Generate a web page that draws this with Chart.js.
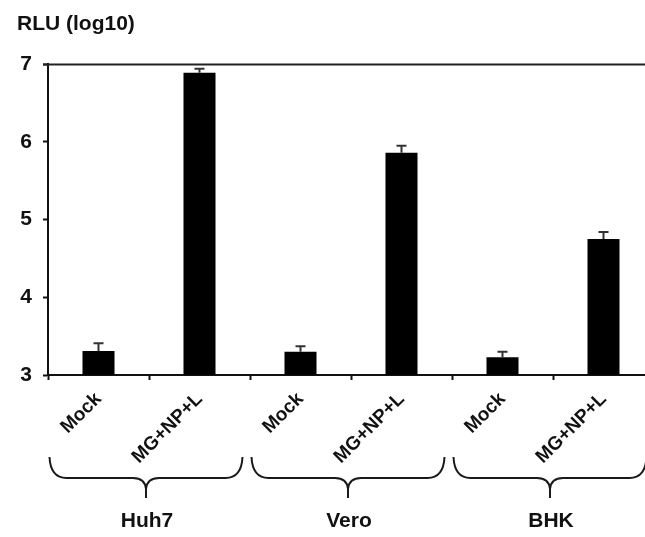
<!DOCTYPE html>
<html>
<head>
<meta charset="utf-8">
<script src="https://cdn.jsdelivr.net/npm/chart.js@4/dist/chart.umd.min.js"></script>
<style>
  html, body { margin: 0; padding: 0; background: #fff; overflow: hidden; }
  #wrap { width: 660px; height: 537px; }
</style>
</head>
<body>
<div id="wrap"><canvas id="c" width="660" height="537"></canvas></div>
<script>
// Luciferase reporter activity per cell line (log10 RLU)
const categories = ['Mock', 'MG+NP+L', 'Mock', 'MG+NP+L', 'Mock', 'MG+NP+L'];
const groups = ['Huh7', 'Vero', 'BHK'];
const rluMeans = [3.31, 6.89, 3.30, 5.86, 3.23, 4.75];
const rluErrors = [0.10, 0.05, 0.07, 0.09, 0.07, 0.09];
const yTicks = [3, 4, 5, 6, 7];

const FONT = "'Liberation Sans', Arial, Helvetica, sans-serif";
const INK = '#111';

// Upper error bars with caps above each bar
const errorBars = {
  id: 'errorBars',
  afterDatasetsDraw(chart) {
    const ctx = chart.ctx;
    const y = chart.scales.y;
    const meta = chart.getDatasetMeta(0);
    ctx.save();
    ctx.strokeStyle = '#333';
    ctx.lineWidth = 2;
    meta.data.forEach((bar, i) => {
      const top = y.getPixelForValue(rluMeans[i] + rluErrors[i]);
      ctx.beginPath();
      ctx.moveTo(bar.x, bar.y);
      ctx.lineTo(bar.x, top);
      ctx.moveTo(bar.x - 5, top);
      ctx.lineTo(bar.x + 5, top);
      ctx.stroke();
    });
    ctx.restore();
  }
};

// Frame line along the top of the plot, curly braces and cell-line names below the axis
const frameAndGroups = {
  id: 'frameAndGroups',
  afterDraw(chart) {
    const ctx = chart.ctx;
    const area = chart.chartArea;
    const x = chart.scales.x;
    const y = chart.scales.y;
    ctx.save();
    ctx.strokeStyle = '#222';
    ctx.lineWidth = 2;
    const topY = Math.round(y.getPixelForValue(7)) + 0.5;
    ctx.beginPath();
    ctx.moveTo(area.left - 5, topY);
    ctx.lineTo(area.right, topY);
    ctx.stroke();

    const endY = area.bottom + 82;
    const lineY = area.bottom + 103;
    const tipY = area.bottom + 123;
    ctx.strokeStyle = '#1a1a1a';
    ctx.lineWidth = 2;
    groups.forEach((name, g) => {
      const L = x.getPixelForValue(2 * g) - 49;
      const R = x.getPixelForValue(2 * g + 1) + 43;
      const C = (L + R) / 2;
      ctx.beginPath();
      ctx.moveTo(L, endY);
      ctx.quadraticCurveTo(L + 1, lineY, L + 17, lineY);
      ctx.lineTo(C - 13, lineY);
      ctx.quadraticCurveTo(C - 1, lineY, C, lineY + 11);
      ctx.lineTo(C, tipY);
      ctx.moveTo(R, endY);
      ctx.quadraticCurveTo(R - 1, lineY, R - 17, lineY);
      ctx.lineTo(C + 13, lineY);
      ctx.quadraticCurveTo(C + 1, lineY, C, lineY + 11);
      ctx.stroke();

      ctx.fillStyle = INK;
      ctx.font = 'bold 21px ' + FONT;
      ctx.textAlign = 'center';
      ctx.textBaseline = 'middle';
      ctx.fillText(name, C + 1, area.bottom + 146);
    });
    ctx.restore();
  }
};

new Chart(document.getElementById('c'), {
  type: 'bar',
  data: {
    labels: categories,
    datasets: [{
      data: rluMeans,
      backgroundColor: '#000',
      borderColor: '#000',
      borderWidth: 0,
      barPercentage: 0.317,
      categoryPercentage: 1.0
    }]
  },
  options: {
    responsive: false,
    animation: false,
    devicePixelRatio: 1,
    layout: { padding: { left: 17, right: 6, top: 0, bottom: 0 } },
    plugins: {
      legend: { display: false },
      tooltip: { enabled: false },
      title: {
        display: true,
        text: 'RLU (log10)',
        align: 'start',
        color: INK,
        font: { family: FONT, size: 21, weight: 'bold' },
        padding: { top: 12, bottom: 27 }
      }
    },
    scales: {
      x: {
        afterFit(scale) { scale.height = 162; },
        border: { display: true, color: '#111', width: 2 },
        grid: {
          display: true,
          offset: true,
          drawOnChartArea: false,
          drawTicks: true,
          tickLength: 5,
          tickWidth: 2,
          tickColor: '#111'
        },
        ticks: {
          autoSkip: false,
          minRotation: 45,
          maxRotation: 45,
          padding: 8,
          color: INK,
          font: { family: FONT, size: 19, weight: 'bold' }
        }
      },
      y: {
        min: 3,
        max: 7,
        afterFit(scale) { scale.width = 31; },
        afterBuildTicks(scale) { scale.ticks = yTicks.map(v => ({ value: v })); },
        border: { display: true, color: '#111', width: 2 },
        grid: {
          display: true,
          drawOnChartArea: false,
          drawTicks: true,
          tickLength: 5,
          tickWidth: 2,
          tickColor: '#111'
        },
        ticks: {
          padding: 11,
          color: INK,
          font: { family: FONT, size: 21, weight: 'bold' }
        }
      }
    }
  },
  plugins: [errorBars, frameAndGroups]
});
</script>
</body>
</html>
